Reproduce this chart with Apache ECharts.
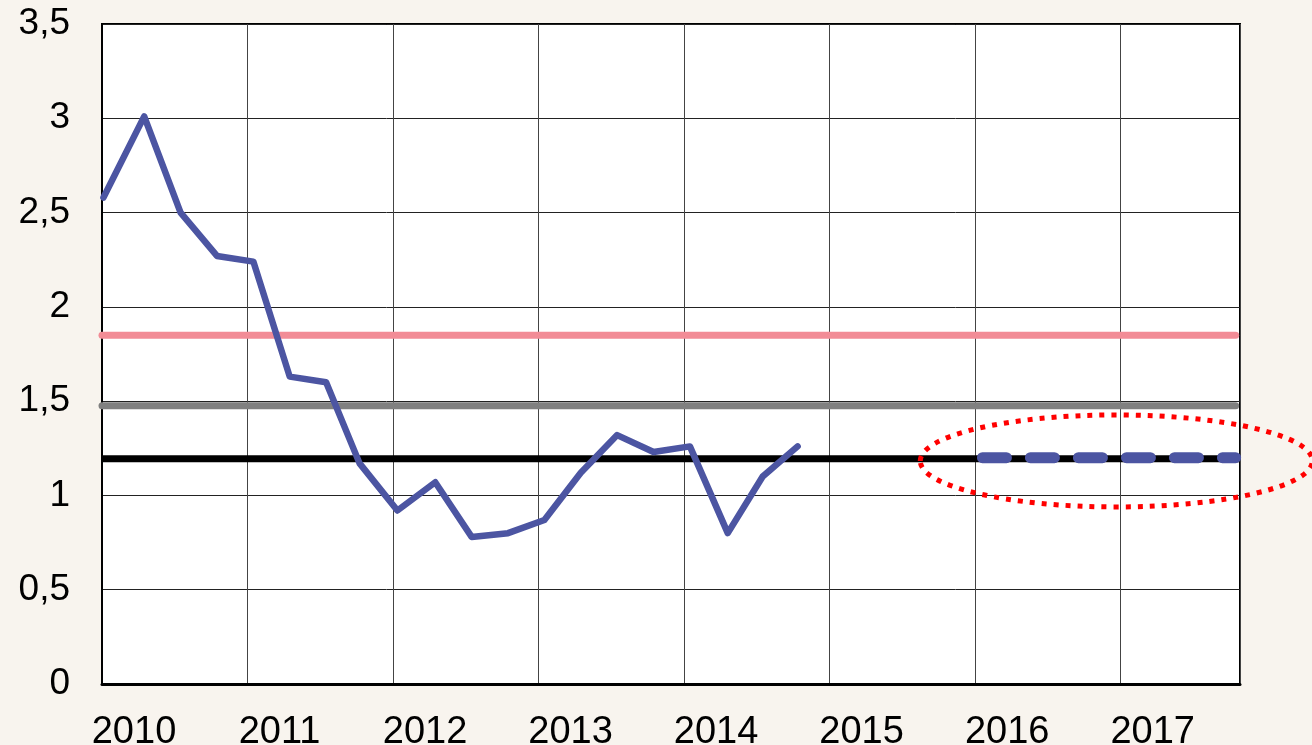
<!DOCTYPE html>
<html>
<head>
<meta charset="utf-8">
<script src="https://cdn.jsdelivr.net/npm/echarts@6/dist/echarts.min.js"></script>
<style>
html,body{margin:0;padding:0;background:#f8f4ee;}
#chart{width:1312px;height:745px;}
</style>
</head>
<body>
<div id="chart"></div>
<script>
// ---- data ----
const yearTicks = [2010, 2011, 2012, 2013, 2014, 2015, 2016, 2017];
const quarterX = [2010.01, 2010.29, 2010.54, 2010.79, 2011.04, 2011.29, 2011.54, 2011.77,
                  2012.03, 2012.29, 2012.54, 2012.79, 2013.04, 2013.29, 2013.54, 2013.79,
                  2014.04, 2014.30, 2014.54, 2014.78];
const inflation = [2.58, 3.01, 2.50, 2.27, 2.24, 1.63, 1.60, 1.17,
                   0.92, 1.07, 0.78, 0.80, 0.87, 1.12, 1.32, 1.23,
                   1.26, 0.80, 1.10, 1.26];
const pinkLevel = 1.85;
const grayLevel = 1.475;
const blackLevel = 1.195;
const projectionLevel = 1.2;
const projectionX = [2016.05, 2017.79];
const xRange = [2010, 2017.82];
const refEndX = 2017.79;
const ellipseCenter = [2016.97, 1.183];
const ellipseRadius = [1.347, 0.244];

const chart = echarts.init(document.getElementById('chart'));
const FONT = '"Liberation Sans", Arial, sans-serif';

const option = {
  backgroundColor: '#f8f4ee',
  animation: false,
  grid: {
    left: 102, right: 72, top: 24, bottom: 61,
    containLabel: false, outerBoundsMode: 'none',
    show: true, backgroundColor: '#ffffff', borderColor: '#000000', borderWidth: 2
  },
  xAxis: {
    type: 'value', min: xRange[0], max: xRange[1], interval: 1,
    axisLine: { show: true, onZero: false, lineStyle: { color: '#000', width: 3 } },
    axisTick: { show: false },
    splitLine: { show: true, lineStyle: { color: '#444', width: 1 } },
    axisLabel: {
      margin: 30, fontSize: 38, fontFamily: FONT, color: '#000',
      padding: [0, 0, 0, 64], showMaxLabel: false, hideOverlap: false,
      formatter: v => (yearTicks.indexOf(v) >= 0 ? String(v) : '')
    }
  },
  yAxis: {
    type: 'value', min: 0, max: 3.5, interval: 0.5,
    axisLine: { show: true, lineStyle: { color: '#000', width: 2 } },
    axisTick: { show: false },
    splitLine: { show: true, lineStyle: { color: '#222', width: 1 } },
    axisLabel: {
      margin: 32, fontSize: 37, fontFamily: FONT, color: '#000',
      formatter: v => String(v).replace('.', ',')
    }
  },
  series: [
    {
      type: 'line', symbol: 'none', silent: true, z: 3,
      data: [[xRange[0], pinkLevel], [refEndX, pinkLevel]],
      lineStyle: { color: '#f28c96', width: 7, cap: 'round' }
    },
    {
      type: 'line', symbol: 'none', silent: true, z: 3,
      data: [[xRange[0], grayLevel], [refEndX, grayLevel]],
      lineStyle: { color: '#808080', width: 7, cap: 'round' }
    },
    {
      type: 'line', symbol: 'none', silent: true, z: 4,
      data: [[xRange[0], blackLevel], [xRange[1], blackLevel]],
      lineStyle: { color: '#000000', width: 7 }
    },
    {
      type: 'line', symbol: 'none', silent: true, z: 5,
      data: projectionX.map(x => [x, projectionLevel]),
      lineStyle: { color: '#4c55a2', width: 11, type: [24, 24], cap: 'round' }
    },
    {
      type: 'line', symbol: 'none', silent: true, z: 6,
      data: quarterX.map((x, i) => [x, inflation[i]]),
      lineStyle: { color: '#4c55a2', width: 6.5, cap: 'round', join: 'round' }
    }
  ]
};
chart.setOption(option);

const c = chart.convertToPixel({ gridIndex: 0 }, ellipseCenter);
const e = chart.convertToPixel({ gridIndex: 0 }, [ellipseCenter[0] + ellipseRadius[0], ellipseCenter[1] + ellipseRadius[1]]);
chart.setOption({
  graphic: [{
    type: 'ellipse', z: 100, silent: true,
    shape: { cx: c[0], cy: c[1], rx: Math.abs(e[0] - c[0]), ry: Math.abs(c[1] - e[1]) },
    style: { fill: 'none', stroke: '#ff0000', lineWidth: 5, lineDash: [5, 7] }
  }]
});
</script>
</body>
</html>
